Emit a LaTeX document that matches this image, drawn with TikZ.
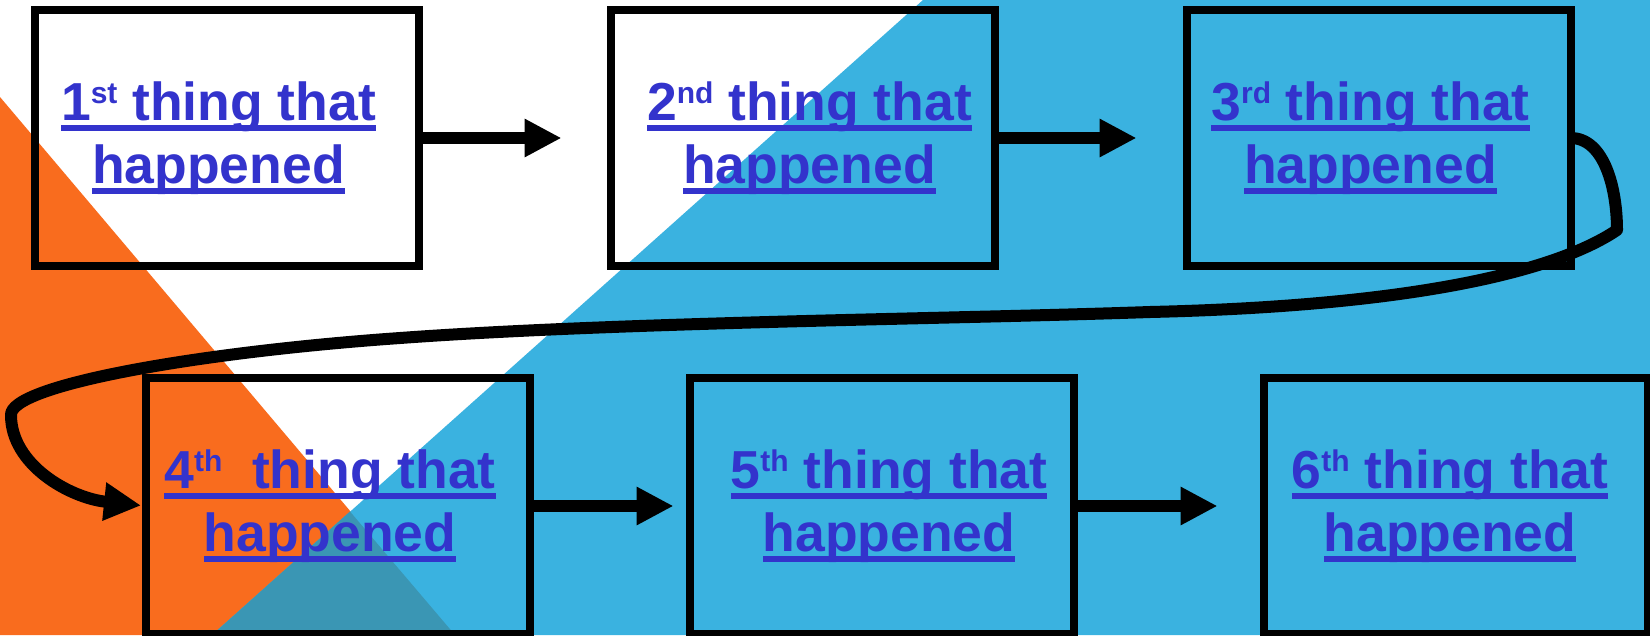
\documentclass[tikz,border=0pt]{standalone}
\usepackage{fontspec}
\setmainfont{Liberation Sans}
\usetikzlibrary{positioning,arrows.meta}

\definecolor{sunset}{RGB}{249,108,30}
\definecolor{sky}{RGB}{58,178,224}
\definecolor{deepsea}{RGB}{58,150,180}
\definecolor{linkblue}{RGB}{51,51,204}

\newsavebox{\ulbox}
\newcommand{\ulined}[1]{\sbox{\ulbox}{#1}\rlap{\rule[-11pt]{\wd\ulbox}{6pt}}\usebox{\ulbox}}
\newcommand{\ord}[1]{\raisebox{16.7pt}{\fontsize{30}{30}\selectfont #1}}

\begin{document}
\begin{tikzpicture}[x=1pt, y=-1pt, node distance=192pt,
    event/.style={draw, line width=8pt, minimum width=384pt, minimum height=256pt,
      inner sep=0pt, outer sep=0pt},
    tag/.style={font=\bfseries\fontsize{53.5}{63}\selectfont, text=linkblue,
      align=center, inner sep=0pt},
    flow/.style={line width=12pt, -{Triangle[length=37pt, width=36pt]}}]
    \useasboundingbox (0,0) rectangle (1650,635);

    % background
    \fill [white] (0,0) rectangle (1650,635);
    \fill [sunset] (0,97) -- (455,635) -- (0,635) -- cycle;
    \fill [sky] (923,0) -- (1650,0) -- (1650,635) -- (212,635) -- cycle;
    \fill [deepsea] (350,511.5) -- (455,635) -- (212,635) -- cycle;

    \node [event] (b1) at (226.5,138) {};
    \node [event, right=of b1] (b2) {};
    \node [event, right=of b2] (b3) {};
      \node [event, below=112pt of b1, xshift=111.5pt] (b4) {};
      \node [event, right=160pt of b4] (b5) {};
      \node [event, right=190pt of b5] (b6) {};

    \node [tag, xshift=-8pt] (t1) at (b1) {\ulined{1\ord{st} thing that}\\\ulined{happened}};
    \node [tag, xshift=7pt] (t2) at (b2) {\ulined{2\ord{nd} thing that}\\\ulined{happened}};
    \node [tag, xshift=-8pt] (t3) at (b3) {\ulined{3\ord{rd} thing that}\\\ulined{happened}};
      \node [tag, xshift=-8pt] (t4) at (b4) {\ulined{4\ord{th}\ \ thing that}\\\ulined{happened}};
      \node [tag, xshift=7pt] (t5) at (b5) {\ulined{5\ord{th} thing that}\\\ulined{happened}};
      \node [tag, xshift=-6pt] (t6) at (b6) {\ulined{6\ord{th} thing that}\\\ulined{happened}};

    \draw [flow, shorten >=49pt] (b1.east) -- (b2.west);
    \draw [flow, shorten >=50pt] (b2.east) -- (b3.west);
    \draw [flow, line join=round, shorten >=5pt] (b3.east)
      .. controls (1605,138) and (1617,190) .. (1617,230)
      .. controls (1570,262) and (1450,305) .. (1150,312)
      .. controls (950,319) and (620,322) .. (400,338)
      .. controls (200,352) and (10,385) .. (11,415)
      .. controls (11,465) and (70,498) .. (b4.west);
      \draw [flow, shorten >=16.5pt] (b4.east) -- (b5.west);
      \draw [flow, shorten >=46.5pt] (b5.east) -- (b6.west);
\end{tikzpicture}
\end{document}
